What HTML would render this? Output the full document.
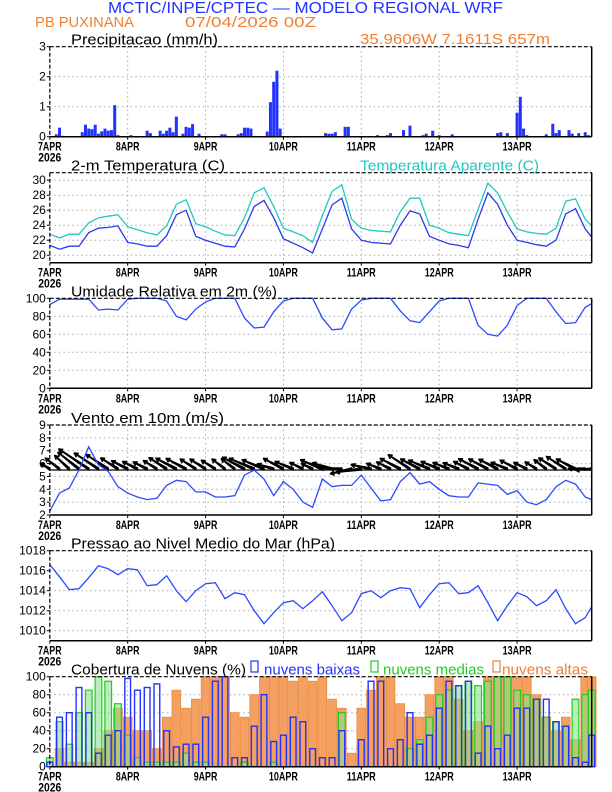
<!DOCTYPE html>
<html><head><meta charset="utf-8"><style>
body{margin:0;background:#fff;}
svg{display:block;font-family:"Liberation Sans",sans-serif;}
</style></head><body>
<svg id="chart" width="612" height="792" viewBox="0 0 612 792" xmlns="http://www.w3.org/2000/svg">
<text x="108" y="13" font-size="16" fill="#2233ff" textLength="395" lengthAdjust="spacingAndGlyphs">MCTIC/INPE/CPTEC — MODELO REGIONAL WRF</text>
<text x="35" y="27" font-size="15" fill="#f08030" textLength="99" lengthAdjust="spacingAndGlyphs">PB PUXINANA</text>
<text x="185" y="27" font-size="15" fill="#f08030" textLength="131" lengthAdjust="spacingAndGlyphs">07/04/2026 00Z</text>
<text x="360" y="44" font-size="15" fill="#f08030" textLength="190" lengthAdjust="spacingAndGlyphs">35.9606W 7.1611S 657m</text>
<g id="panels"></g>
</svg>
<script>
const dayLabels=["7APR","8APR","9APR","10APR","11APR","12APR","13APR"];
const precipHours=[2,3,4,10,11,12,13,14,15,16,17,18,19,20,21,25,30,31,34,35,36,37,38,39,41,42,43,44,46,53,54,58,59,60,61,62,67,68,69,70,71,85,86,87,88,91,92,101,104,105,109,111,115,116,118,120,124,138,139,141,144,145,146,147,153,155,156,157,160,161,163,165,166];
const precipValues=[0.08,0.3,0.03,0.15,0.4,0.27,0.25,0.4,0.1,0.18,0.27,0.2,0.22,1.05,0.05,0.05,0.2,0.12,0.2,0.1,0.2,0.3,0.15,0.67,0.1,0.33,0.3,0.42,0.1,0.08,0.08,0.08,0.12,0.3,0.3,0.27,0.17,1.15,1.83,2.2,0.27,0.12,0.1,0.1,0.15,0.33,0.33,0.05,0.05,0.12,0.22,0.37,0.05,0.1,0.2,0.05,0.08,0.12,0.15,0.12,0.8,1.33,0.27,0.05,0.08,0.43,0.12,0.22,0.22,0.1,0.12,0.15,0.05];
const temp2m=[21.3,20.8,21.2,21.2,23.0,23.6,23.7,23.9,21.7,21.5,21.2,21.2,22.6,25.4,26.0,22.5,22.0,21.6,21.2,21.1,23.5,26.5,27.3,25.0,22.2,21.6,21.0,20.3,23.5,26.7,27.6,23.5,22.0,21.7,21.6,21.5,24.0,25.9,25.5,22.5,22.0,21.5,21.3,21.0,24.8,28.3,26.8,24.0,22.0,21.7,21.4,21.2,22.0,25.5,26.2,23.5,22.4];
const tempApparent=[22.8,22.3,22.8,22.8,24.3,25.0,25.2,25.4,23.8,23.4,23.0,22.7,23.9,26.8,27.4,24.2,23.8,23.2,22.7,22.6,25.0,28.3,29.0,26.5,23.6,23.1,22.6,21.7,25.3,28.5,29.4,24.8,23.6,23.3,23.2,23.1,25.8,27.6,27.6,24.0,23.6,23.0,22.8,22.6,26.1,29.6,28.3,25.8,23.5,23.1,22.9,22.8,23.6,27.2,27.5,24.8,23.9];
const humidity=[93,99,99,99,99,87,88,87,99,100,100,100,97,80,76,88,96,100,100,100,78,67,68,85,97,100,100,100,78,65,66,88,98,100,100,100,86,75,73,85,97,100,100,100,70,60,58,70,92,100,100,100,85,72,73,90,94];
const windSpeed=[2.3,3.7,4.1,5.5,7.3,5.9,5.4,4.2,3.7,3.4,3.2,3.3,4.3,4.7,4.6,3.8,3.8,3.4,3.4,3.5,5.1,5.5,4.8,3.5,4.6,4.0,3.0,2.6,4.8,4.2,4.3,4.3,5.1,4.1,3.1,3.2,4.6,5.3,4.4,4.6,4.0,3.5,3.4,3.4,4.5,4.4,4.3,3.6,3.9,3.0,2.8,3.2,4.2,4.7,4.4,3.4,3.2];
const windAngle=[35,40,45,40,35,35,35,35,30,30,30,35,35,30,30,35,35,35,40,40,30,25,25,20,30,25,30,30,25,20,5,-10,-5,15,25,30,30,35,30,25,25,25,25,30,30,30,30,25,30,30,35,40,35,35,30,5,0];
const pressure=[1016.6,1015.4,1014.1,1014.2,1015.3,1016.5,1016.2,1015.6,1016.2,1016.1,1014.5,1014.6,1015.5,1014.0,1012.9,1014.0,1014.7,1014.8,1013.2,1013.8,1013.6,1012.0,1010.7,1011.8,1012.8,1013.0,1012.2,1013.0,1013.9,1012.5,1011.0,1011.8,1013.7,1014.0,1013.3,1014.0,1014.3,1014.2,1012.3,1013.6,1014.7,1014.8,1013.7,1013.8,1014.5,1012.8,1011.0,1012.5,1013.8,1013.4,1012.5,1013.0,1014.1,1012.2,1010.7,1011.3,1012.4];
const cloudLow=[5,55,60,88,60,15,35,40,98,85,88,92,40,22,25,25,55,95,100,10,10,45,80,28,35,55,50,20,10,10,40,0,30,95,95,20,30,60,25,35,65,95,90,95,15,45,20,35,65,65,75,75,50,45,10,5,35];
const cloudMid=[10,50,25,60,85,100,95,70,35,10,5,5,5,5,15,5,5,0,0,0,5,0,0,5,0,0,0,0,0,0,60,0,0,0,0,0,0,20,30,55,80,85,90,95,90,95,100,100,85,80,75,55,50,45,75,80,85];
const cloudHigh=[0,20,5,5,5,20,40,65,55,40,40,20,55,85,65,75,100,100,100,60,55,80,100,100,100,95,100,95,100,75,65,15,65,85,100,100,70,55,55,80,100,100,75,40,50,100,100,100,100,100,80,55,40,55,30,100,100];

const NS="http://www.w3.org/2000/svg";
const L=49.8,R=591.7,HPX=(R-L)/167;
const g=document.getElementById('panels');
function X(h){return L+h*HPX;}
function hr(i){return Math.min(i*3,167);}
function mk(tag,attrs,parent){const e=document.createElementNS(NS,tag);for(const k in attrs)e.setAttribute(k,attrs[k]);(parent||g).appendChild(e);return e;}
function txt(s,attrs,parent){const e=mk('text',attrs,parent);e.textContent=s;return e;}
function panel(name,top,bot,min,max,ticks,title,titleW){
  const grp=mk('g',{});
  
  
  const Y=v=>bot-(v-min)/(max-min)*(bot-top);
  for(let d=1;d<7;d++){const gl=mk('line',{x1:X(d*24),x2:X(d*24),y1:top,y2:bot,stroke:'#aaa','stroke-width':1,'stroke-dasharray':'1.5,3'},grp);
    }
  ticks.forEach(t=>{
    if(t>min&&t<max){const yl=mk('line',{x1:L,x2:R,y1:Y(t),y2:Y(t),stroke:'#aaa','stroke-width':1,'stroke-dasharray':'1.5,3'},grp);
      }
    const tl=txt(String(t),{x:L-4,y:Y(t)+4,'font-size':12,'text-anchor':'end',fill:'#000'},grp);
    
    mk('line',{x1:L-3,x2:L,y1:Y(t),y2:Y(t),stroke:'#000'},grp);
  });
  dayLabels.forEach((s,d)=>{
    const dl=txt(s,{x:X(d*24),y:bot+14,'font-size':12,'font-weight':'bold','text-anchor':'middle',fill:'#000',textLength:s.length*5.4+2,lengthAdjust:'spacingAndGlyphs'},grp);
    
    mk('line',{x1:X(d*24),x2:X(d*24),y1:bot,y2:bot+3,stroke:'#000'},grp);
  });
  const yr=txt('2026',{x:L,y:bot+25,'font-size':12,'font-weight':'bold','text-anchor':'middle',fill:'#000',textLength:23,lengthAdjust:'spacingAndGlyphs'},grp);
  
  const tt=txt(title,{x:71,y:top-2,'font-size':15,fill:'#000',textLength:titleW,lengthAdjust:'spacingAndGlyphs'},grp);
  
  const plot=mk('g',{},grp);
  
  return {grp,plot,Y,top,bot};
}
function frame(p){
  mk('line',{x1:L,x2:R,y1:p.top,y2:p.top,stroke:'#000','stroke-width':1.2,'stroke-dasharray':'4,2'},p.grp);
  mk('line',{x1:L,x2:L,y1:p.top,y2:p.bot,stroke:'#000','stroke-width':1.2,'stroke-dasharray':'4,2'},p.grp);
  mk('line',{x1:R,x2:R,y1:p.top,y2:p.bot,stroke:'#000','stroke-width':1.5},p.grp);
  mk('line',{x1:L,x2:R,y1:p.bot,y2:p.bot,stroke:'#000','stroke-width':1.5},p.grp);
}
function line(p,arr,color,name){
  const d=arr.map((v,i)=>(i?'L':'M')+X(hr(i)).toFixed(1)+','+p.Y(v).toFixed(1)).join('');
  const e=mk('path',{d,fill:'none',stroke:color,'stroke-width':1.3},p.plot);
  
  
}

// Precip
const pp=panel('precipitation',46.7,136.7,0,3,[0,1,2,3],'Precipitacao (mm/h)',147);
precipHours.forEach((h,i)=>{
  const y=pp.Y(precipValues[i]);
  const b=mk('rect',{x:X(h)-1.5,y:y,width:3,height:pp.bot-y,fill:'#2233ff'},pp.plot);
  
  
});
frame(pp);

// Temperature
const pt=panel('temperature',172.7,262.7,19,31,[20,22,24,26,28,30],'2-m Temperatura (C)',154);
const at=txt('Temperatura Aparente (C)',{x:360,y:170.7,'font-size':15,fill:'#20c8c0',textLength:179,lengthAdjust:'spacingAndGlyphs'},pt.grp);

line(pt,tempApparent,'#20c8c0','apparent-temperature-line');
line(pt,temp2m,'#2a3aee','temperature-line');
frame(pt);

// Humidity
const ph=panel('humidity',298.3,388.3,0,100,[0,20,40,60,80,100],'Umidade Relativa em 2m (%)',206);
line(ph,humidity,'#2a4aff','humidity-line');
frame(ph);

// Wind
const pw=panel('wind',425,515,2,9,[2,3,4,5,6,7,8,9],'Vento em 10m (m/s)',153);
const base=pw.Y(5.5);
windSpeed.forEach((s,i)=>{
  const x0=X(hr(i)),len=s*5,a=windAngle[i]*Math.PI/180;
  const x1=x0-len*Math.cos(a),y1=base-len*Math.sin(a);
  const ar=mk('g',{},pw.plot);
  
  
  mk('path',{d:`M${x0},${base}L${x1},${y1}L${x0},${base-2}Z`,fill:'#000',stroke:'#000','stroke-width':1.6,'stroke-linejoin':'round'},ar);
  for(const da of [0.5,-0.5]){const ha=a+da;
    mk('line',{x1:x1,y1:y1,x2:x1+4.5*Math.cos(ha),y2:y1+4.5*Math.sin(ha),stroke:'#000','stroke-width':1.6},ar);}
});
mk('line',{x1:L,x2:R,y1:base,y2:base,stroke:'#000','stroke-width':1.2},pw.plot);
line(pw,windSpeed,'#2a4aff','wind-speed-line');
frame(pw);

// Pressure
const pr=panel('pressure',550.7,640.7,1009,1018,[1010,1012,1014,1016,1018],'Pressao ao Nivel Medio do Mar (hPa)',264);
line(pr,pressure,'#2a4aff','pressure-line');
frame(pr);

// Clouds
const pc=panel('clouds',676.7,766.7,0,100,[0,20,40,60,80,100],'Cobertura de Nuvens (%)',175);
const bw=3*HPX;
cloudHigh.forEach((v,i)=>{const y=pc.Y(v);
  const b=mk('rect',{x:X(hr(i))-bw/2+0.5,y:y,width:bw-1,height:pc.bot-y,fill:'#f4a060',stroke:'#e88a40','stroke-width':0.8},pc.plot);
  });
cloudMid.forEach((v,i)=>{const y=pc.Y(v);
  const b=mk('rect',{x:X(hr(i))-bw/2+1.5,y:y,width:bw-3,height:pc.bot-y,fill:'#8ee08e','fill-opacity':0.6,stroke:'#22cc22','stroke-width':1.2},pc.plot);
  });
cloudLow.forEach((v,i)=>{const y=pc.Y(v);
  const b=mk('rect',{x:X(hr(i))-bw/2+2,y:y,width:bw-4,height:pc.bot-y,fill:'none',stroke:'#2233ff','stroke-width':1.4},pc.plot);
  });
frame(pc);
const leg=[['#2233ff',251,'nuvens baixas',264,96],['#22cc22',371,'nuvens medias',383,101],['#f08030',493,'nuvens altas',502,86]];
leg.forEach(l=>{
  const e=mk('g',{},pc.grp);
  
  
  mk('rect',{x:l[1],y:661,width:7,height:11,fill:'none',stroke:l[0],'stroke-width':1.2},e);
  txt(l[2],{x:l[3],y:674.7,'font-size':15,fill:l[0],textLength:l[4],lengthAdjust:'spacingAndGlyphs'},e);
});
</script>
</body></html>
